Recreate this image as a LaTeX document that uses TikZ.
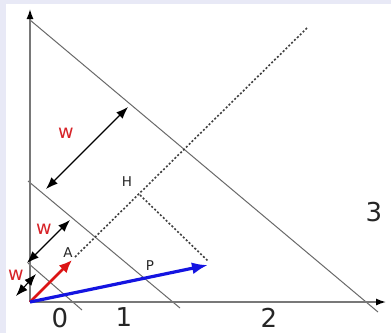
\documentclass[tikz,border=0pt]{standalone}
\usepackage{fontspec}
\setmainfont{DejaVu Sans}
\usetikzlibrary{arrows.meta}
\definecolor{bgl}{RGB}{232,233,246}
\definecolor{wred}{RGB}{215,35,40}
\definecolor{vred}{RGB}{220,20,20}
\definecolor{vblue}{RGB}{20,20,225}
\definecolor{lgray}{RGB}{105,105,105}
\tikzset{
  lvl/.style={draw=lgray, line width=1pt},
  axis/.style={draw=lgray!90, line width=1.4pt, -{Latex[black,length=10pt,width=7pt]}},
  dots/.style={draw=black!75, line width=1.6pt, dash pattern=on 2pt off 2pt},
  dbl/.style={draw=black, line width=1.1pt, {Latex[length=12pt,width=9pt]}-{Latex[length=12pt,width=9pt]}},
  wlab/.style={text=wred, font=\fontsize{19}{19}\selectfont, inner sep=0pt},
  ptlab/.style={text=black!85, font=\fontsize{13.5}{14}\selectfont, inner sep=0pt},
  numlab/.style={text=black!85, font=\fontsize{26}{26}\selectfont, inner sep=0pt}
}
\begin{document}
\begin{tikzpicture}[x=1pt,y=-1pt]
\fill[bgl] (0,0) rectangle (391,333);
\fill[white] (6,4) rectangle (391,333);
\useasboundingbox (0,0) rectangle (391,333);
\coordinate (O) at (30,302);
\coordinate (Ytip) at (30,9);
\coordinate (Xtip) at (386,302);
% level lines
\coordinate (L3a) at (30,20); \coordinate (L3b) at (378,312);
\coordinate (L2a) at (28,181); \coordinate (L2b) at (180,308);
\coordinate (L1a) at (28,263); \coordinate (L1b) at (82,310);
\draw[lvl] (L3a) -- (L3b);
\draw[lvl] (L2a) -- (L2b);
\draw[lvl] (L1a) -- (L1b);
% axes
\draw[axis] (O) -- (Ytip);
\draw[axis] (O) -- (Xtip);
% dashed
\coordinate (Atip) at (72,260);
\coordinate (Dstart) at (75,257);
\coordinate (Dend) at (307,28);
\coordinate (Hc) at (140,195);
\coordinate (Ptip) at (208,265);
\coordinate (Pend) at (208,261);
\draw[dots] (Dstart) -- (Dend);
\draw[dots] (Hc) -- (Pend);
% vectors
\draw[vred, line width=2.8pt, -{Latex[length=13pt,width=11pt]}] (O) -- (Atip);
\draw[vblue, line width=3.2pt, -{Latex[length=16pt,width=12pt]}] (O) -- (Ptip);
% width arrows
\coordinate (W1a) at (46,189); \coordinate (W1b) at (128,107);
\coordinate (W2a) at (27,263); \coordinate (W2b) at (70,220);
\coordinate (W3a) at (16,296); \coordinate (W3b) at (36,274);
\draw[dbl] (W1a) -- (W1b);
\draw[dbl] (W2a) -- (W2b);
\draw[dbl] (W3a) -- (W3b);
% labels
\node[wlab] (w1) at (66,133) {w};
\node[wlab] (w2) at (44,229) {w};
\node[wlab] (w3) at (16,275) {w};
\node[ptlab] (lA) at (68,253) {A};
\node[ptlab] (lH) at (127,182) {H};
\node[ptlab] (lP) at (150,266) {P};
\node[numlab] (n0) at (60,318) {0};
\node[numlab] (n1) at (124,317) {1};
\node[numlab] (n2) at (269,318) {2};
\node[numlab] (n3) at (374,212) {3};
\end{tikzpicture}
\end{document}
